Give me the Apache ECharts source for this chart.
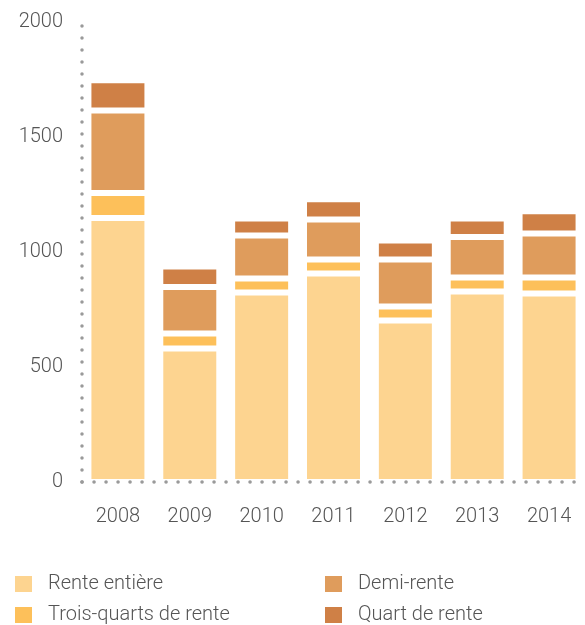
<!DOCTYPE html>
<html>
<head>
<meta charset="utf-8">
<script src="https://cdn.jsdelivr.net/npm/echarts@6/dist/echarts.min.js"></script>
<style>html,body{margin:0;padding:0;background:#fff;}#c{width:585px;height:625px;}</style>
</head>
<body>
<div id="c"></div>
<script>
const years = ['2008','2009','2010','2011','2012','2013','2014'];
const renteEntiere = [1148, 580, 824, 907, 702, 828, 820];
const troisQuarts = [109, 66, 61, 60, 61, 61, 69];
const demiRente = [358, 202, 187, 174, 204, 176, 191];
const quartRente = [132, 89, 74, 88, 83, 81, 97];
const yTicks = { min: 0, max: 2000, interval: 500 };
const seriesNames = ['Rente entière', 'Trois-quarts de rente', 'Demi-rente', 'Quart de rente'];

const colors = ['#FDD490', '#FDC05A', '#DF9C5C', '#CF8046'];
const font = 'Roboto';
const dotted = { color: '#9a9a9a', width: 3.5, type: [0.1, 11.9], cap: 'round' };

function bar(name, data, color) {
  return {
    name, type: 'bar', stack: 'total', data, barWidth: 59,
    itemStyle: { color, borderColor: '#fff', borderWidth: 3 },
    emphasis: { disabled: true }
  };
}

const legendPos = [[8, 569], [8, 600], [318, 569], [318, 600]];
const legendOrder = [0, 1, 2, 3];
const legends = legendOrder.map((i) => ({
  left: legendPos[i][0], top: legendPos[i][1], icon: 'rect',
  itemWidth: 19, itemHeight: 18,
  data: [seriesNames[i]],
  textStyle: { color: '#555', fontFamily: font, fontWeight: 300, fontSize: 20, lineHeight: 20, padding: [0, 0, 0, 10] },
  selectedMode: false
}));

const chart = echarts.init(document.getElementById('c'), null, { renderer: 'canvas' });
chart.setOption({
  animation: false,
  grid: { left: 82, right: 0, top: 22, bottom: 143, containLabel: false },
  xAxis: {
    type: 'category', data: years, z: 5,
    axisTick: { show: false },
    axisLine: { show: true, lineStyle: dotted },
    axisLabel: { color: '#555', fontFamily: font, fontWeight: 300, fontSize: 20, margin: 25 }
  },
  yAxis: {
    type: 'value', min: yTicks.min, max: yTicks.max, interval: yTicks.interval,
    splitLine: { show: false },
    axisTick: { show: false },
    axisLine: { show: true, lineStyle: dotted },
    axisLabel: { color: '#555', fontFamily: font, fontWeight: 300, fontSize: 20, margin: 19, formatter: (v) => String(v) }
  },
  legend: legends,
  series: [
    bar(seriesNames[0], renteEntiere, colors[0]),
    bar(seriesNames[1], troisQuarts, colors[1]),
    bar(seriesNames[2], demiRente, colors[2]),
    bar(seriesNames[3], quartRente, colors[3])
  ]
});
</script>
</body>
</html>
